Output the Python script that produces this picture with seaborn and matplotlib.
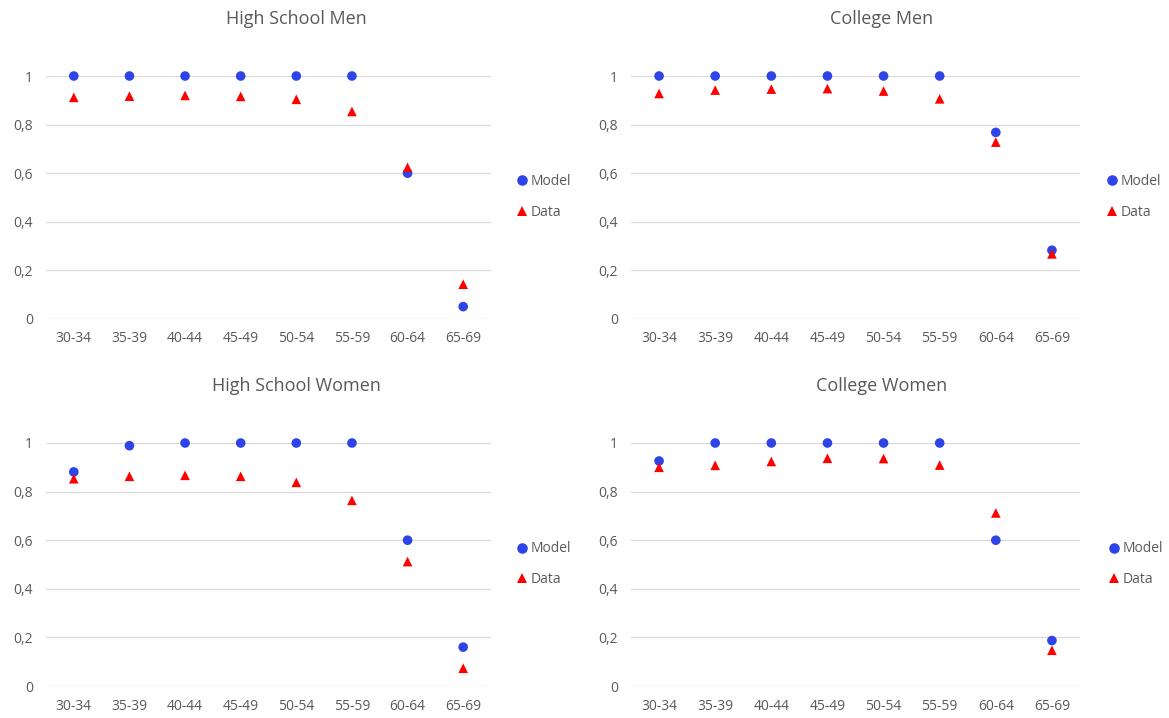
import numpy as np
import pandas as pd
import seaborn as sns
from matplotlib import pyplot as plt

ages = ['30-34', '35-39', '40-44', '45-49', '50-54', '55-59', '60-64', '65-69']
ytick_vals = [0, 0.2, 0.4, 0.6, 0.8, 1]
ytick_labels = ['0', '0,2', '0,4', '0,6', '0,8', '1']

titles = ['High School Men', 'College Men', 'High School Women', 'College Women']

hs_men_model = [1, 1, 1, 1, 1, 1, 0.600, 0.051]
hs_men_data = [0.912, 0.917, 0.920, 0.916, 0.904, 0.854, 0.624, 0.143]
col_men_model = [1, 1, 1, 1, 1, 1, 0.768, 0.283]
col_men_data = [0.928, 0.942, 0.946, 0.948, 0.938, 0.906, 0.728, 0.268]
hs_women_model = [0.881, 0.989, 1, 1, 1, 1, 0.600, 0.160]
hs_women_data = [0.853, 0.863, 0.867, 0.863, 0.838, 0.764, 0.512, 0.073]
col_women_model = [0.926, 1, 1, 1, 1, 1, 0.600, 0.187]
col_women_data = [0.900, 0.908, 0.924, 0.937, 0.936, 0.909, 0.712, 0.147]

panels = [(hs_men_model, hs_men_data), (col_men_model, col_men_data),
          (hs_women_model, hs_women_data), (col_women_model, col_women_data)]

sns.set_style('white')
plt.rcParams['font.family'] = ['Open Sans', 'DejaVu Sans']
text_color = '#595959'
palette = {'Model': '#2E44E8', 'Data': '#FF0000'}
markers = {'Model': 'o', 'Data': '^'}

W, H = 1169, 718
fig = plt.figure(figsize=(W / 100, H / 100), dpi=100)

# pixel boxes: left, right, top(y=1), bottom(y=0)
boxes = [(46, 491, 76, 319), (631, 1080, 76, 319),
         (46, 491, 443, 686), (631, 1080, 443, 686)]
title_pos = [(296, 19), (882, 19), (296, 386), (882, 386)]
legend_pos = [(516, 197), (1106, 197), (516, 564), (1108, 564)]

for i, (model, data) in enumerate(panels):
    l, r, t, b = boxes[i]
    ax = fig.add_axes([l / W, 1 - b / H, (r - l) / W, (b - t) / H])
    df = pd.DataFrame({
        'Age': ages + ages,
        'Share': model + data,
        'Series': ['Model'] * len(ages) + ['Data'] * len(ages),
    })
    sns.scatterplot(ax=ax, data=df, x='Age', y='Share', hue='Series', style='Series',
                    palette=palette, markers=markers, s=48, linewidth=0,
                    clip_on=False, zorder=3)
    ax.set_xlim(-0.5, len(ages) - 0.5)
    ax.set_ylim(0, 1)
    ax.set_yticks(ytick_vals)
    ax.set_yticklabels(ytick_labels)
    ax.set_xlabel('')
    ax.set_ylabel('')
    ax.grid(axis='y', color='#d9d9d9', linewidth=0.9)
    ax.grid(axis='x', visible=False)
    ax.set_axisbelow(True)
    for s in ax.spines.values():
        s.set_visible(False)
    ax.tick_params(axis='both', length=0, labelsize=10, colors=text_color)
    ax.tick_params(axis='y', pad=9.5)
    ax.tick_params(axis='x', pad=9)

    tx, ty = title_pos[i]
    fig.text(tx / W, 1 - ty / H, titles[i], ha='center', va='center',
             fontsize=13, color=text_color)

    handles, labels = ax.get_legend_handles_labels()
    lx, ly = legend_pos[i]
    ax.legend(handles=handles, labels=labels, loc='center left',
              bbox_to_anchor=(lx / W, 1 - ly / H), bbox_transform=fig.transFigure,
              frameon=False, fontsize=10, labelcolor=text_color,
              handlelength=0.8, handletextpad=0.25, labelspacing=1.1,
              borderpad=0, borderaxespad=0, markerscale=1.1)

fig.savefig('out.png', dpi=100)
